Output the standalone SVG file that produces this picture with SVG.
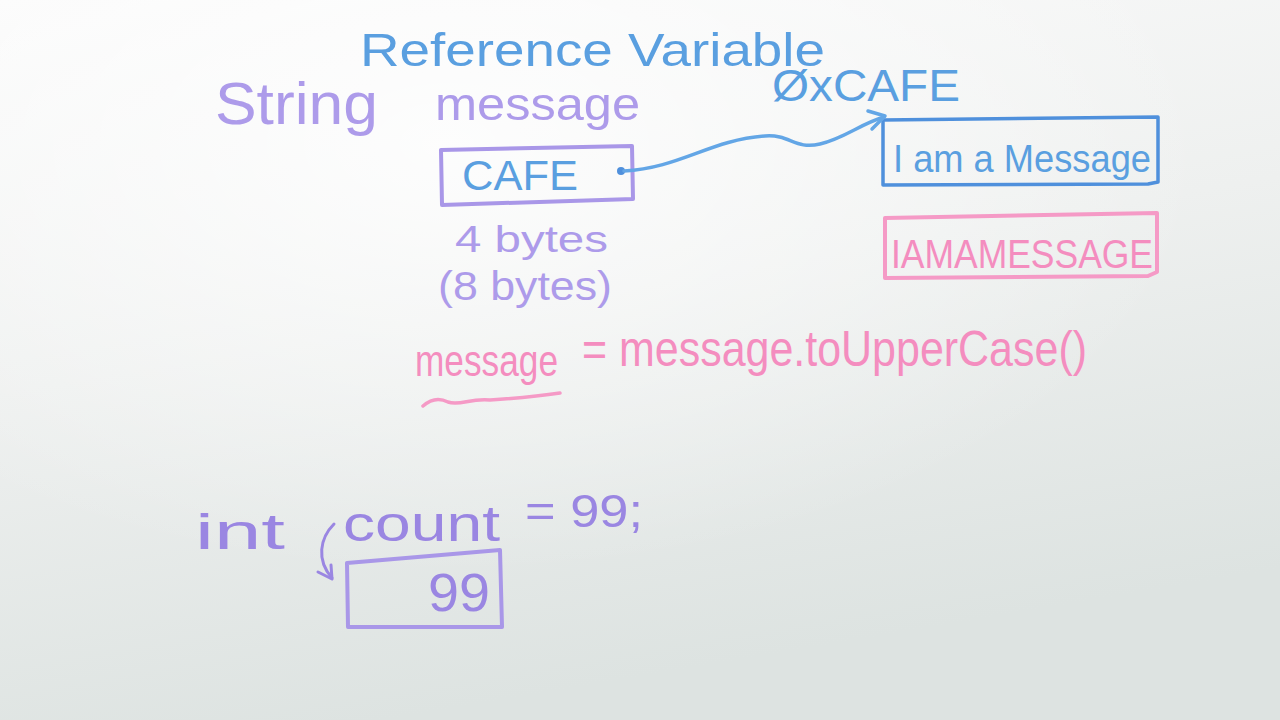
<svg xmlns="http://www.w3.org/2000/svg" width="1280" height="720" viewBox="0 0 1280 720">
<defs>
<linearGradient id="bg" x1="0" y1="0" x2="0.3" y2="1">
<stop offset="0" stop-color="#fbfbfb"/>
<stop offset="0.5" stop-color="#eef0ef"/>
<stop offset="1" stop-color="#dde3e1"/>
</linearGradient>
<radialGradient id="glow" cx="0.35" cy="0.2" r="0.6">
<stop offset="0" stop-color="#ffffff" stop-opacity="0.8"/>
<stop offset="1" stop-color="#ffffff" stop-opacity="0"/>
</radialGradient>
</defs>
<style>
text{font-family:"Liberation Sans","DejaVu Sans",sans-serif;}
.blue{fill:#5a9fe0;}
.purple{fill:#ad9bea;}
.dpurple{fill:#9a86e2;}
.pink{fill:#f48dbf;}
.boxp{fill:none;stroke:#a997e8;stroke-width:4;stroke-linejoin:round;}
.boxb{fill:none;stroke:#4f90dc;stroke-width:3.5;stroke-linejoin:round;}
.boxk{fill:none;stroke:#f59ac6;stroke-width:4;stroke-linejoin:round;}
.lineb{fill:none;stroke:#63a6e6;stroke-width:3.5;stroke-linecap:round;stroke-linejoin:round;}
.linep{fill:none;stroke:#9a86e2;stroke-width:3;stroke-linecap:round;stroke-linejoin:round;}
.linek{fill:none;stroke:#f59ac6;stroke-width:3.5;stroke-linecap:round;}
</style>
<rect width="1280" height="720" fill="url(#bg)"/>
<rect width="1280" height="720" fill="url(#glow)"/>

<g id="title">
<text class="blue" x="360" y="66" font-size="46" textLength="465" lengthAdjust="spacingAndGlyphs">Reference Variable</text>
</g>
<g id="type-label">
<text class="purple" x="215" y="124" font-size="60" textLength="163" lengthAdjust="spacingAndGlyphs">String</text>
<text class="purple" x="435" y="120" font-size="46" textLength="205" lengthAdjust="spacingAndGlyphs">message</text>
</g>
<g id="address">
<text class="blue" x="772" y="101" font-size="44" textLength="188" lengthAdjust="spacingAndGlyphs">ØxCAFE</text>
</g>

<g id="ref-box">
<path class="boxp" d="M441 150 L632 146 L633 199 L442 205 Z"/>
<text class="blue" x="462" y="190" font-size="42" textLength="116" lengthAdjust="spacingAndGlyphs">CAFE</text>
<circle cx="621" cy="171" r="4" fill="#4f90dc"/>
</g>
<g id="size-label">
<text class="purple" x="455" y="252" font-size="36" textLength="153" lengthAdjust="spacingAndGlyphs">4 bytes</text>
<text class="purple" x="438" y="300" font-size="40" textLength="174" lengthAdjust="spacingAndGlyphs">(8 bytes)</text>
</g>

<g id="object-box">
<path class="boxb" d="M883 120 L1158 117 L1158 182 L1148 184 L883 185 Z"/>
<text class="blue" x="893" y="172" font-size="38" textLength="258" lengthAdjust="spacingAndGlyphs">I am a Message</text>
</g>
<g id="upper-box">
<path class="boxk" d="M885 218 L1157 213 L1157 272 L1148 276 L885 278 Z"/>
<text class="pink" x="891" y="268" font-size="40" textLength="262" lengthAdjust="spacingAndGlyphs">IAMAMESSAGE</text>
</g>

<g id="assignment">
<text class="pink" x="415" y="376" font-size="44" textLength="143" lengthAdjust="spacingAndGlyphs">message</text>
<text class="pink" x="582" y="366" font-size="50" textLength="505" lengthAdjust="spacingAndGlyphs">= message.toUpperCase()</text>
<path class="linek" d="M423 406 C432 398 440 398 448 402 C460 406 470 398 490 400 C520 398 540 396 560 393"/>
</g>

<g id="int-decl">
<text class="dpurple" x="195" y="549" font-size="50" textLength="90" lengthAdjust="spacingAndGlyphs">int</text>
<text class="dpurple" x="343" y="541" font-size="50" textLength="157" lengthAdjust="spacingAndGlyphs">count</text>
<text class="dpurple" x="525" y="527" font-size="46" textLength="118" lengthAdjust="spacingAndGlyphs">= 99;</text>
</g>
<g id="count-box">
<path class="boxp" d="M347 563 L500 550 L502 627 L348 627 Z"/>
<text class="dpurple" x="428" y="611" font-size="54" textLength="62" lengthAdjust="spacingAndGlyphs">99</text>
</g>

<g id="connectors">
<path class="lineb" d="M624 171 C680 168 710 140 765 136 C790 134 795 150 820 144 C845 138 860 124 884 117"/>
<path class="lineb" d="M868 111 L885 116 L872 129"/>
<path class="linep" d="M334 524 C320 538 316 560 332 578"/>
<path class="linep" d="M318 572 L332 579 L331 565"/>
</g>
</svg>
